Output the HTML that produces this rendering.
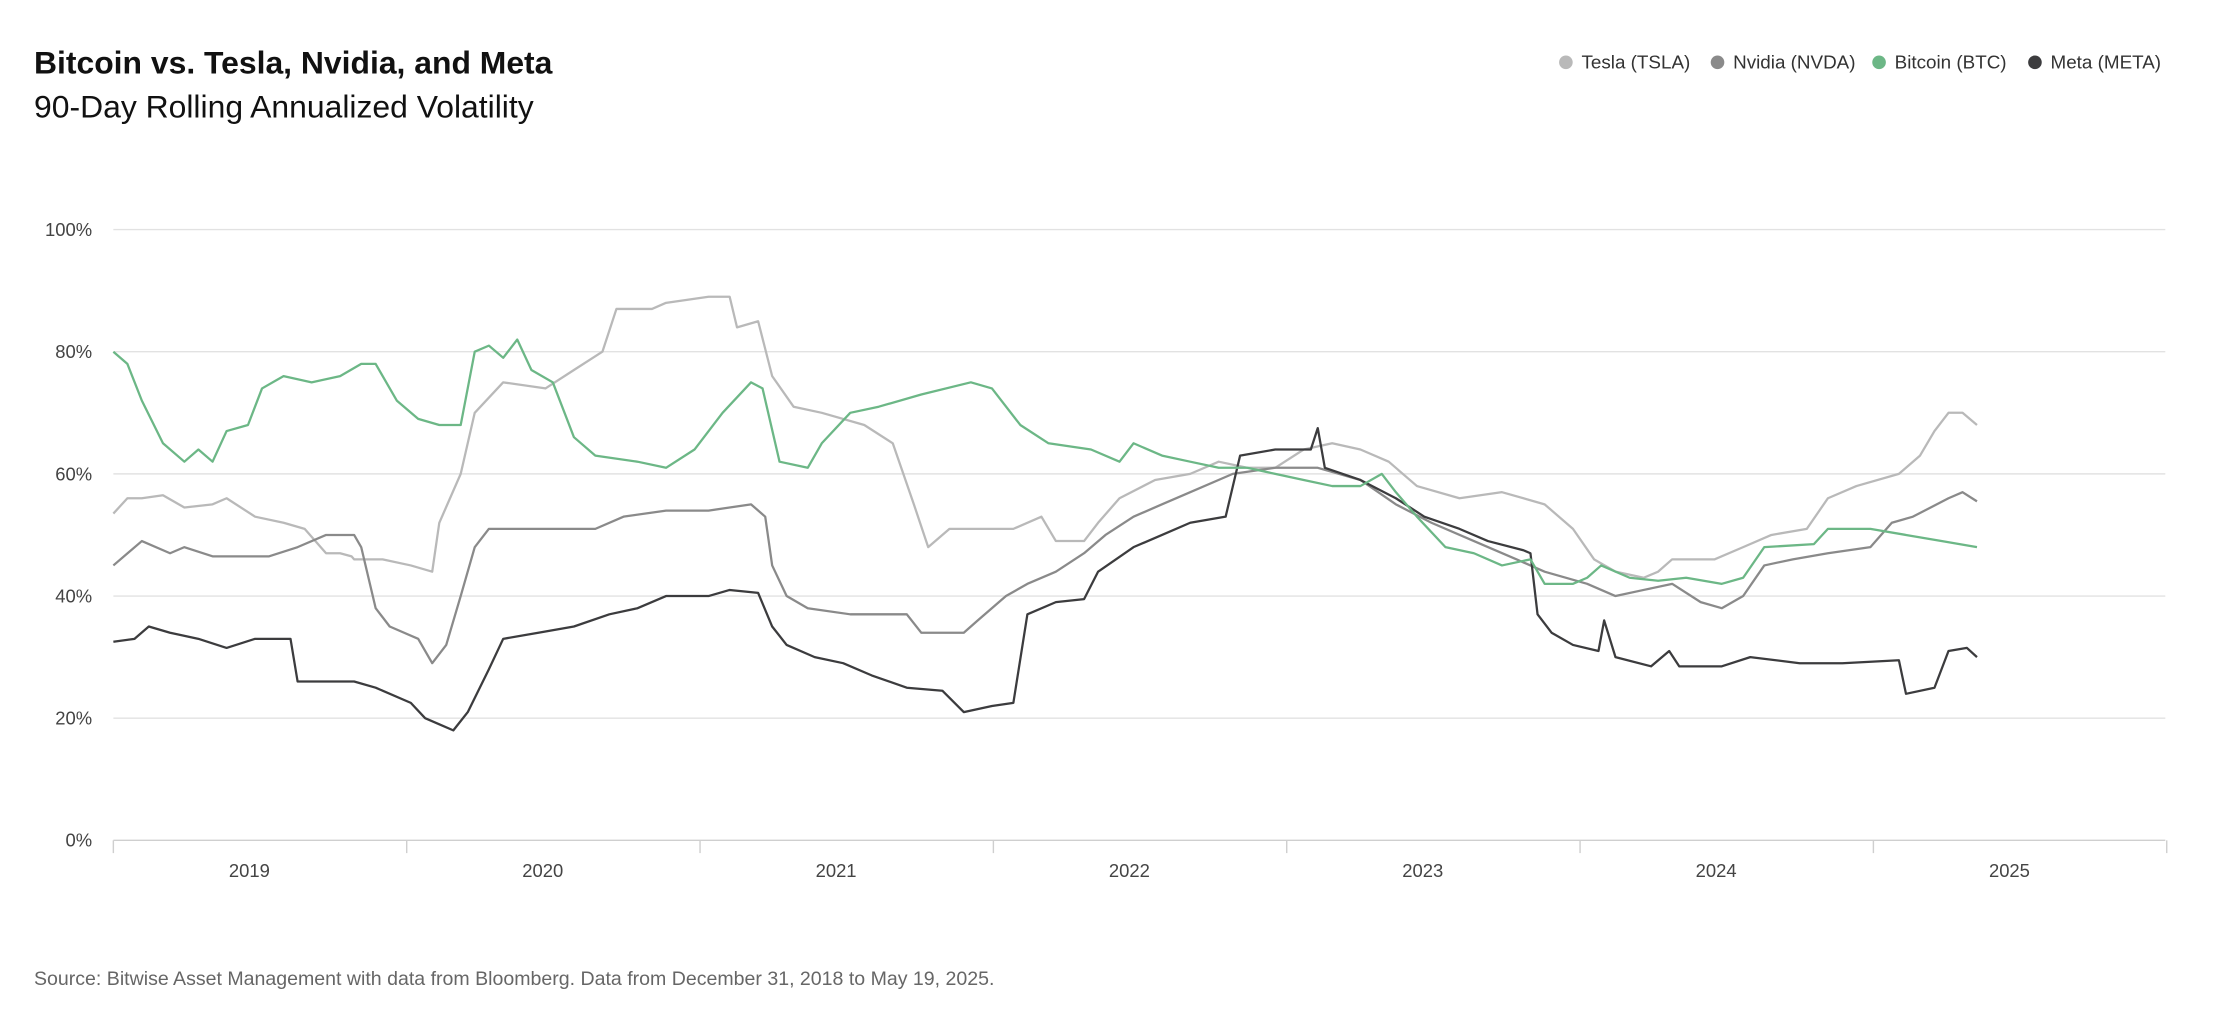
<!DOCTYPE html>
<html><head><meta charset="utf-8"><style>
html,body{margin:0;padding:0;background:#fff;width:2222px;height:1024px;overflow:hidden}
svg{display:block;font-family:"Liberation Sans",Arial,sans-serif}
</style></head><body>
<svg id="chart" width="2222" height="1024" viewBox="0 0 1568 722.6" xmlns="http://www.w3.org/2000/svg">
<text x="24" y="52" font-size="22.5" font-weight="bold" fill="#111">Bitcoin vs. Tesla, Nvidia, and Meta</text>
<text x="24" y="83" font-size="22.5" fill="#111">90-Day Rolling Annualized Volatility</text>
<g id="legend" font-size="13" fill="#333"></g>
<g id="grid"></g>
<g id="series"></g>
<text x="24" y="695" font-size="13.8" fill="#666">Source: Bitwise Asset Management with data from Bloomberg. Data from December 31, 2018 to May 19, 2025.</text>
</svg>
<script>
// Data: years since Dec 31 2018 (t) and volatility % (v)
const yTicks=[0,20,40,60,80,100];
const yearLabels=["2019","2020","2021","2022","2023","2024","2025"];
const seriesNames=["Tesla (TSLA)","Nvidia (NVDA)","Bitcoin (BTC)","Meta (META)"];
const seriesColors=["#b9b9b9","#8a8a8a","#6cb786","#3c3c3e"];
const teslaT=[0,.048,.097,.169,.242,.338,.386,.483,.580,.652,.725,.773,.812,.821,.918,1.014,1.087,1.111,1.184,1.232,1.329,1.473,1.570,1.667,1.715,1.836,1.884,2.029,2.101,2.126,2.198,2.246,2.319,2.415,2.560,2.657,2.729,2.778,2.850,2.995,3.068,3.164,3.213,3.309,3.357,3.430,3.551,3.671,3.768,3.865,3.961,4.058,4.155,4.251,4.348,4.444,4.589,4.734,4.879,4.976,5.048,5.121,5.217,5.266,5.314,5.459,5.556,5.652,5.773,5.845,5.942,6.087,6.159,6.208,6.256,6.304,6.353];
const teslaV=[53.5,56,56,56.5,54.5,55,56,53,52,51,47,47,46.5,46,46,45,44,52,60,70,75,74,77,80,87,87,88,89,89,84,85,76,71,70,68,65,55,48,51,51,51,53,49,49,52,56,59,60,62,61,61,64,65,64,62,58,56,57,55,51,46,44,43,44,46,46,48,50,51,56,58,60,63,67,70,70,68];
const nvdaT=[0,.097,.193,.242,.338,.531,.628,.725,.821,.845,.894,.942,1.039,1.087,1.135,1.184,1.232,1.280,1.353,1.643,1.739,1.884,2.029,2.174,2.222,2.246,2.295,2.367,2.512,2.705,2.754,2.899,2.947,3.043,3.116,3.213,3.309,3.382,3.478,3.575,3.671,3.816,3.961,4.106,4.251,4.372,4.493,4.638,4.783,4.879,5.024,5.121,5.217,5.314,5.411,5.483,5.556,5.628,5.725,5.845,5.990,6.063,6.135,6.256,6.304,6.353];
const nvdaV=[45,49,47,48,46.5,46.5,48,50,50,48,38,35,33,29,32,40,48,51,51,51,53,54,54,55,53,45,40,38,37,37,34,34,36,40,42,44,47,50,53,55,57,60,61,61,59,55,52,49,46,44,42,40,41,42,39,38,40,45,46,47,48,52,53,56,57,55.5];
const btcT=[0,.048,.097,.169,.242,.290,.338,.386,.459,.507,.580,.676,.773,.845,.894,.966,1.039,1.111,1.184,1.232,1.280,1.329,1.377,1.425,1.498,1.570,1.643,1.787,1.884,1.981,2.077,2.174,2.213,2.271,2.367,2.415,2.512,2.609,2.754,2.923,2.995,3.092,3.188,3.333,3.430,3.478,3.575,3.671,3.768,3.865,3.961,4.058,4.155,4.251,4.324,4.372,4.444,4.541,4.638,4.734,4.831,4.879,4.976,5.024,5.072,5.169,5.266,5.362,5.483,5.556,5.628,5.797,5.845,5.990,6.111,6.232,6.353];
const btcV=[80,78,72,65,62,64,62,67,68,74,76,75,76,78,78,72,69,68,68,80,81,79,82,77,75,66,63,62,61,64,70,75,74,62,61,65,70,71,73,75,74,68,65,64,62,65,63,62,61,61,60,59,58,58,60,57,53,48,47,45,46,42,42,43,45,43,42.5,43,42,43,48,48.5,51,51,50,49,48];
const metaT=[0,.072,.121,.193,.290,.386,.483,.604,.628,.821,.894,1.014,1.063,1.111,1.159,1.208,1.280,1.329,1.449,1.570,1.691,1.787,1.884,2.029,2.101,2.198,2.246,2.295,2.391,2.488,2.585,2.705,2.826,2.899,2.995,3.068,3.116,3.213,3.309,3.357,3.478,3.575,3.671,3.792,3.841,3.961,4.082,4.106,4.130,4.251,4.372,4.469,4.589,4.686,4.807,4.831,4.855,4.903,4.976,5.063,5.082,5.121,5.242,5.304,5.338,5.483,5.580,5.749,5.894,6.087,6.111,6.208,6.256,6.319,6.353];
const metaV=[32.5,33,35,34,33,31.5,33,33,26,26,25,22.5,20,19,18,21,28,33,34,35,37,38,40,40,41,40.5,35,32,30,29,27,25,24.5,21,22,22.5,37,39,39.5,44,48,50,52,53,63,64,64,67.5,61,59,56,53,51,49,47.5,47,37,34,32,31,36,30,28.5,31,28.5,28.5,30,29,29,29.5,24,25,31,31.5,30];

const NS="http://www.w3.org/2000/svg";
const L=80,R=1528,T=162,B=593,YW=207;
const xs=t=>L+t*YW;
const ys=v=>B-(v/100)*(B-T);
function mk(tag,attrs,parent){const e=document.createElementNS(NS,tag);for(const k in attrs)e.setAttribute(k,attrs[k]);parent.appendChild(e);return e;}
const grid=document.getElementById('grid');
yTicks.forEach(v=>{
  const ln=mk('line',{x1:L,x2:R,y1:ys(v),y2:ys(v),stroke:v===0?'#cfcfcf':'#e2e2e2','stroke-width':1},grid);
  
  
  const tx=mk('text',{x:65,y:ys(v)+4.5,'text-anchor':'end','font-size':13,fill:'#444'},grid);
  tx.textContent=v+'%';
  
  
});
for(let i=0;i<=yearLabels.length;i++){
  const tk=mk('line',{x1:xs(i),x2:xs(i),y1:B,y2:B+9,stroke:'#cfcfcf','stroke-width':1},grid);
  
  
}
yearLabels.forEach((lab,i)=>{
  const tx=mk('text',{x:xs(i)+96,y:B+26,'text-anchor':'middle','font-size':13,fill:'#444'},grid);
  tx.textContent=lab;
  
  
});
const sg=document.getElementById('series');
const all=[[teslaT,teslaV],[nvdaT,nvdaV],[btcT,btcV],[metaT,metaV]];
const order=[0,1,3,2];
order.forEach(i=>{
  const [ts,vs]=all[i];
  let d='';
  ts.forEach((t,j)=>{d+=(j?'L':'M')+xs(t).toFixed(1)+','+ys(vs[j]).toFixed(1);});
  const p=mk('path',{d:d,fill:'none',stroke:seriesColors[i],'stroke-width':1.6,'stroke-linejoin':'round'},sg);
  
  
});
const lg=document.getElementById('legend');
const legX=[1105,1212,1326,1436];
seriesNames.forEach((n,i)=>{
  const g=mk('g',{},lg);
  
  
  mk('circle',{cx:legX[i],cy:44,r:4.8,fill:seriesColors[i]},g);
  const tx=mk('text',{x:legX[i]+11,y:48.5,'font-size':13.3,fill:'#333'},g);
  tx.textContent=n;
});
</script>
</body></html>
